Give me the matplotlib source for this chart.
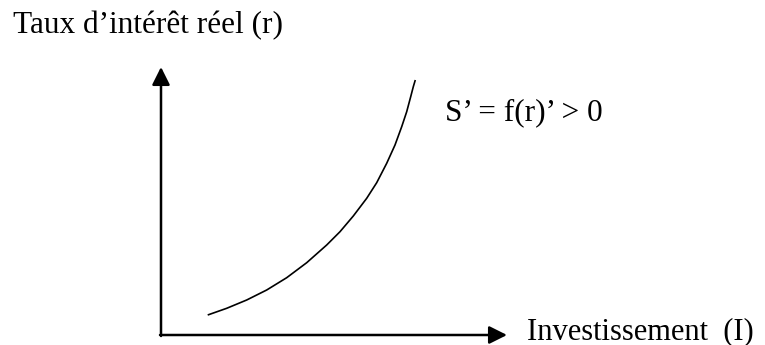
import matplotlib
matplotlib.use("Agg")
import matplotlib.pyplot as plt

# Curve S' = f(r) (x: investissement, y: taux) in arbitrary units, origin at axes corner
curve_x = [4.67, 6.57, 8.57, 10.57, 12.57, 14.57, 16.57, 17.9, 19.23, 20.57,
           21.57, 22.57, 23.4, 24.07, 24.57, 24.97, 25.23, 25.43]
curve_y = [2.0, 2.67, 3.5, 4.5, 5.73, 7.23, 9.0, 10.33, 11.9, 13.67,
           15.23, 17.17, 19.0, 20.83, 22.33, 23.83, 24.83, 25.5]

y_axis_label = "Taux d\u2019intérêt réel (r)"
x_axis_label = "Investissement  (I)"
curve_label = "S\u2019 = f(r)\u2019 > 0"

plt.rcParams['font.family'] = ['Liberation Serif', 'DejaVu Serif']

fig = plt.figure(figsize=(7.65, 3.45), dpi=100)
ax = fig.add_axes([0, 0, 1, 1])
ax.set_xlim(-16.1, 60.4)
ax.set_ylim(-1.0, 33.5)
ax.axis("off")

# axes arrows
ax.annotate("", xy=(0, 26.8), xytext=(0, -0.1),
            arrowprops=dict(arrowstyle="-|>", mutation_scale=27, lw=1.8,
                            color="black", shrinkA=0, shrinkB=0))
ax.annotate("", xy=(34.6, 0), xytext=(-0.1, 0),
            arrowprops=dict(arrowstyle="-|>", mutation_scale=27, lw=1.8,
                            color="black", shrinkA=0, shrinkB=0))

ax.plot(curve_x, curve_y, color="black", lw=1.2, solid_capstyle="butt",
        solid_joinstyle="round")

ax.text(-14.8, 30.9, y_axis_label, fontsize=22.5, va="center", ha="left")
ax.text(36.6, -0.45, x_axis_label, fontsize=22, va="baseline", ha="left")
ax.text(28.4, 22.2, curve_label, fontsize=22.5, va="center", ha="left")

fig.savefig("out.png", dpi=100)
